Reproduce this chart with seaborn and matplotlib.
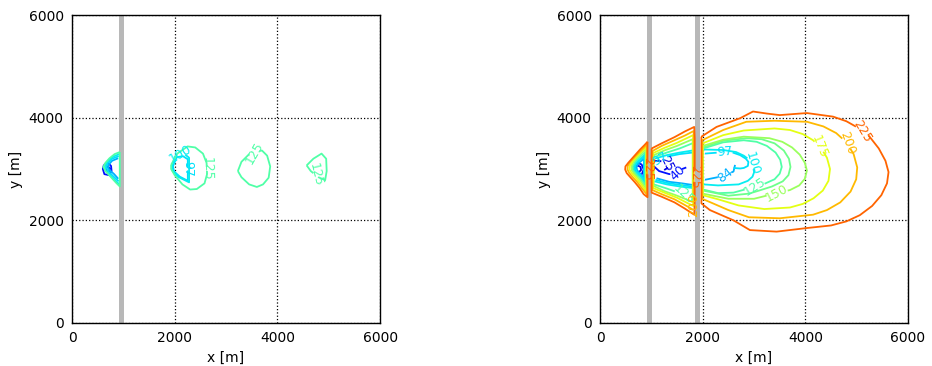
import numpy as np
import matplotlib
matplotlib.use("Agg")
import matplotlib.pyplot as plt
import seaborn as sns
from matplotlib.contour import ContourSet
from matplotlib.colors import Normalize

# contour levels (travel time) shown in each panel
levels_left = [25, 40, 84, 97, 100, 125]
levels_right = [25, 40, 84, 97, 100, 125, 135, 150, 175, 200, 225]

# barrier positions (x range in m)
walls_left = [(920, 1005)]
walls_right = [(920, 1005), (1845, 1955)]

# ---- left panel contour lines, (x, y) in m ----
L25 = [[(660, 3020), (700, 3050), (740, 3010), (720, 2950), (670, 2960), (660, 3020)]]
L40 = [[(620, 3080), (700, 3120), (760, 3060), (770, 2960), (720, 2880), (630, 2900),
        (600, 3000), (620, 3080)]]
L84 = [[(900, 3210), (780, 3160), (700, 3070), (720, 2990), (820, 2900), (900, 2810)]]
L97 = [[(910, 3250), (780, 3200), (690, 3110), (670, 3040), (700, 2960), (800, 2860), (910, 2760)],
       [(1965, 3050), (2040, 3230), (2160, 3250), (2255, 3190), (2255, 2770), (2100, 2850),
        (1990, 2950), (1965, 3050)]]
L100 = [[(920, 3290), (800, 3240), (700, 3160), (640, 3060), (660, 2960), (760, 2860),
         (860, 2760), (920, 2700)],
        [(1945, 3060), (2020, 3280), (2180, 3300), (2280, 3220), (2280, 2740), (2080, 2840),
         (1960, 2960), (1945, 3060)]]
L125 = [[(930, 3330), (830, 3290), (730, 3210), (650, 3120), (610, 3040), (650, 2960),
         (750, 2850), (860, 2730), (930, 2660), (930, 3330)],
        [(1930, 3080), (2050, 3300), (2250, 3440), (2400, 3420), (2550, 3300), (2620, 3120),
         (2630, 2900), (2580, 2720), (2430, 2610), (2300, 2600), (2150, 2700), (2000, 2880),
         (1930, 3000), (1930, 3080)],
        [(3230, 2960), (3300, 3140), (3440, 3280), (3600, 3340), (3700, 3360), (3800, 3260),
         (3860, 3050), (3830, 2830), (3720, 2700), (3600, 2650), (3450, 2700), (3300, 2840),
         (3230, 2960)],
        [(4570, 3070), (4700, 3200), (4860, 3300), (4950, 3200), (4960, 2960), (4930, 2780),
         (4800, 2840), (4650, 2960), (4570, 3070)]]

# ---- right panel contour lines ----
R25 = [[(680, 3030), (730, 3070), (790, 3040), (800, 2980), (750, 2930), (690, 2960), (680, 3030)],
       [(1010, 3150), (1150, 3160), (1300, 3120), (1330, 3030), (1250, 2980)]]
R40 = [[(650, 3070), (720, 3120), (810, 3090), (850, 2990), (810, 2890), (720, 2870),
        (660, 2930), (650, 3070)],
       [(1020, 3080), (1150, 2960), (1350, 2900), (1500, 2920), (1600, 3000), (1680, 3030)]]
R84 = [[(855, 3200), (760, 3120), (710, 3050), (720, 2980), (790, 2900), (855, 2820), (855, 3200)],
       [(1100, 2820), (1350, 2750), (1600, 2720), (1800, 2690)],
       [(2045, 2790), (2340, 2850), (2430, 2880), (2600, 2950), (2630, 3080)]]
R97 = [[(865, 3240), (760, 3160), (690, 3080), (680, 3020), (720, 2940), (800, 2870),
        (865, 2780), (865, 3240)],
       [(1080, 3180), (1300, 3240), (1550, 3290), (1800, 3320)],
       [(1080, 2790), (1300, 2730), (1550, 2690), (1800, 2660)],
       [(2045, 3300), (2300, 3320), (2530, 3340), (2730, 3270), (2840, 3200), (2890, 3140),
        (2880, 3060), (2800, 3020), (2730, 3010), (2600, 3020)]]
R100 = [[(875, 3280), (770, 3190), (690, 3110), (660, 3030), (670, 2970), (730, 2900),
         (800, 2840), (875, 2730), (875, 3280)],
        [(1060, 3200), (1300, 3270), (1550, 3320), (1800, 3360)],
        [(1060, 2760), (1300, 2700), (1550, 2660), (1800, 2630)],
        [(2020, 3380), (2400, 3370), (2650, 3330), (2800, 3260), (2920, 3170), (2990, 3060),
         (3010, 2960), (2970, 2850), (2880, 2770), (2700, 2700), (2300, 2680), (2020, 2700)]]
R125 = [[(885, 3330), (780, 3240), (690, 3150), (640, 3060), (640, 2980), (700, 2900),
         (790, 2810), (885, 2680), (885, 3330)],
        [(1050, 3230), (1300, 3320), (1550, 3400), (1800, 3500)],
        [(1050, 2700), (1300, 2620), (1550, 2530), (1800, 2420)],
        [(2010, 3400), (2400, 3520), (2800, 3560), (3050, 3530), (3250, 3450), (3420, 3320),
         (3510, 3180), (3540, 3040), (3500, 2910), (3400, 2800), (3200, 2710), (3000, 2650),
         (2600, 2540), (2300, 2530), (2010, 2600)]]
R135 = [[(2008, 3420), (2400, 3550), (2850, 3600), (3150, 3580), (3400, 3500), (3580, 3360),
         (3680, 3200), (3710, 3040), (3670, 2880), (3560, 2760), (3350, 2660), (3100, 2580),
         (2900, 2520), (2500, 2480), (2008, 2580)]]
R150 = [[(895, 3380), (800, 3300), (700, 3200), (630, 3110), (610, 3040), (620, 2970),
         (680, 2890), (780, 2780), (895, 2620), (895, 3380)],
        [(1045, 3270), (1250, 3360), (1500, 3450), (1805, 3580), (1805, 2360), (1500, 2480),
         (1250, 2570), (1045, 2670), (1045, 3270)],
        [(2005, 3450), (2400, 3570), (2800, 3630), (3300, 3600), (3550, 3530), (3740, 3420),
         (3890, 3280), (3990, 3120), (4030, 2970), (3990, 2810), (3880, 2680), (3700, 2590),
         (3440, 2530), (3000, 2420), (2500, 2420), (2005, 2520), (2005, 3450)]]
R175 = [[(905, 3430), (820, 3350), (720, 3250), (640, 3160), (580, 3060), (575, 2990),
         (610, 2930), (690, 2840), (790, 2720), (905, 2560), (905, 3430)],
        [(1035, 3310), (1250, 3410), (1500, 3510), (1815, 3660), (1815, 2280), (1500, 2440),
         (1250, 2540), (1035, 2630), (1035, 3310)],
        [(2000, 3500), (2400, 3660), (2800, 3750), (3400, 3790), (3700, 3760), (3950, 3680),
         (4150, 3560), (4300, 3420), (4420, 3220), (4480, 3000), (4450, 2770), (4340, 2580),
         (4160, 2430), (3950, 2320), (3700, 2250), (3200, 2220), (2700, 2290), (2300, 2410),
         (2000, 2490), (2000, 3500)]]
R200 = [[(915, 3480), (840, 3400), (760, 3320), (680, 3240), (600, 3150), (540, 3060),
         (535, 2990), (570, 2920), (640, 2840), (730, 2740), (820, 2620), (915, 2500), (915, 3480)],
        [(1020, 3350), (1200, 3450), (1450, 3560), (1650, 3650), (1825, 3740), (1825, 2200),
         (1650, 2300), (1450, 2410), (1200, 2510), (1020, 2590), (1020, 3350)],
        [(1990, 3560), (2400, 3760), (2850, 3920), (3400, 3940), (4030, 3920), (4350, 3830),
         (4600, 3700), (4800, 3520), (4940, 3290), (5010, 3030), (4990, 2800), (4880, 2560),
         (4680, 2350), (4420, 2200), (4150, 2110), (3500, 2040), (2900, 2060), (2500, 2200),
         (2200, 2330), (1990, 2420), (1990, 3560)]]
R225 = [[(925, 3530), (860, 3460), (780, 3380), (700, 3290), (620, 3200), (550, 3120),
         (495, 3050), (490, 2990), (520, 2920), (590, 2840), (680, 2740), (770, 2630),
         (850, 2510), (925, 2450), (925, 3530)],
        [(1005, 3400), (1200, 3500), (1450, 3620), (1650, 3730), (1835, 3820), (1845, 3600),
         (1845, 2400), (1835, 2110), (1650, 2230), (1450, 2350), (1200, 2460), (1005, 2540),
         (1000, 2960), (1005, 3400)],
        [(1975, 3630), (2270, 3820), (2730, 3990), (2980, 4120), (3250, 4080), (3500, 4050),
         (4030, 4090), (4540, 4020), (4800, 3930), (5030, 3800), (5250, 3630), (5430, 3400),
         (5560, 3160), (5620, 2940), (5590, 2720), (5480, 2490), (5300, 2280), (5060, 2100),
         (4800, 1980), (4500, 1900), (4030, 1850), (3440, 1780), (2920, 1810), (2600, 2000),
         (2140, 2200), (1975, 2330), (1975, 3630)]]

# where the inline labels sit
labels_left = [(2620, 3000), (3540, 3320), (4720, 2880), (2100, 3290), (2230, 3000)]
labels_right = [(5195, 3760), (4838, 3500), (4290, 3440), (3440, 2540), (3020, 2650),
                (2955, 3110), (2435, 3330), (2435, 2880), (1558, 2920), (1300, 3100),
                (1170, 3200), (1600, 2480), (1850, 2850), (1825, 2300), (925, 3000)]

segs_left = [L25, L40, L84, L97, L100, L125]
segs_right = [R25, R40, R84, R97, R100, R125, R135, R150, R175, R200, R225]

sns.set_theme(style="white")
plt.rcParams.update({
    "font.family": ["DejaVu Sans"],
    "axes.edgecolor": "black",
    "axes.linewidth": 1.0,
    "text.color": "black",
    "axes.labelcolor": "black",
    "xtick.color": "black",
    "ytick.color": "black",
    "xtick.labelsize": 10,
    "ytick.labelsize": 10,
    "axes.labelsize": 10,
})

fig = plt.figure(figsize=(9.32, 3.66), dpi=100)
ax1 = fig.add_axes([0.0773, 0.1175, 0.3305, 0.8415])
ax2 = fig.add_axes([0.6438, 0.1175, 0.3305, 0.8415])

norm = Normalize(vmin=0, vmax=280)

panels = [(ax1, levels_left, segs_left, walls_left, labels_left),
          (ax2, levels_right, segs_right, walls_right, labels_right)]

for ax, lev, segs, walls, labpos in panels:
    for x0, x1 in walls:
        ax.axvspan(x0, x1, color="0.72", lw=0, zorder=1)
    allsegs = [[np.array(s, dtype=float) for s in seg_list] for seg_list in segs]
    cs = ContourSet(ax, [float(v) for v in lev], allsegs, cmap="jet", norm=norm,
                    linewidths=1.3)
    cs.set_zorder(2)
    ax.clabel(cs, fmt="%d", fontsize=9, inline=True, inline_spacing=2, manual=labpos)
    ax.set_xlim(0, 6000)
    ax.set_ylim(0, 6000)
    ax.set_xticks([0, 2000, 4000, 6000])
    ax.set_yticks([0, 2000, 4000, 6000])
    ax.grid(True, color="black", linestyle=":", linewidth=0.9)
    ax.set_axisbelow(True)
    ax.tick_params(length=0, pad=6)
    ax.set_xlabel("x [m]")
    ax.set_ylabel("y [m]")

fig.savefig("out.png", dpi=100)
